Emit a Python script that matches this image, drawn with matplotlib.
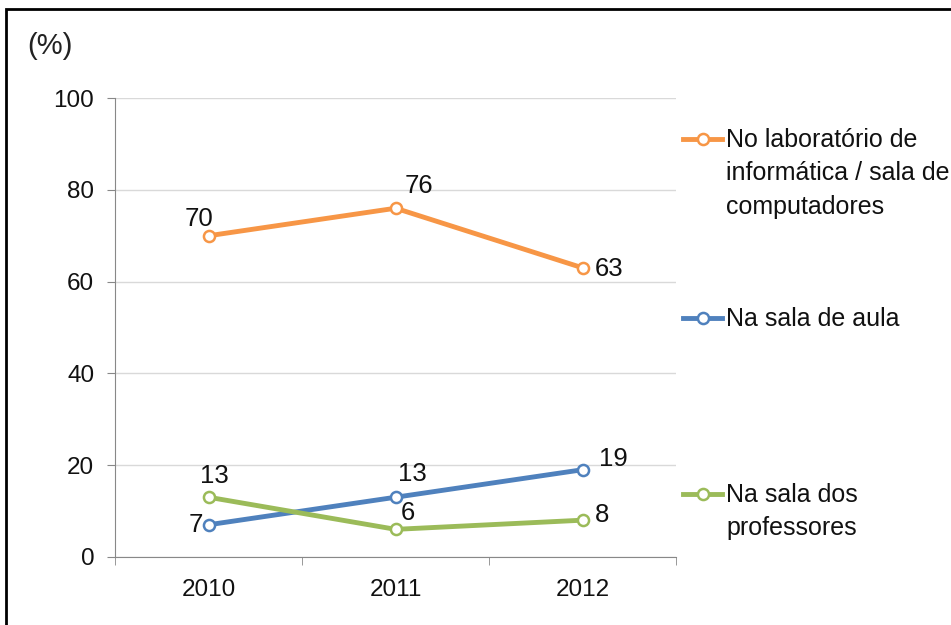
import matplotlib.pyplot as plt
from matplotlib.lines import Line2D
from matplotlib.patches import Rectangle

plt.rcParams['font.family'] = ['Liberation Sans', 'DejaVu Sans']

years = ['2010', '2011', '2012']
lab_values = [70, 76, 63]
aula_values = [7, 13, 19]
prof_values = [13, 6, 8]

series_names = [['No laboratório de', 'informática / sala de', 'computadores'],
                ['Na sala de aula'],
                ['Na sala dos', 'professores']]
colors = ['#F79646', '#4F81BD', '#9BBB59']

# offsets of the value labels in points (dx, dy, ha)
lab_offsets = [(-7, 12, 'center'), (17, 16, 'center'), (9, -1, 'left')]
aula_offsets = [(-4, 0, 'right'), (12, 17, 'center'), (12, 8, 'left')]
prof_offsets = [(4, 15, 'center'), (9, 12, 'center'), (9, 4, 'left')]

FS = 17.5
TXT = '#111111'

fig = plt.figure(figsize=(9.51, 6.25), dpi=100)
ax = fig.add_axes([0.121, 0.109, 0.590, 0.734])

x = list(range(len(years)))
for values, color, offsets in zip([lab_values, aula_values, prof_values],
                                  colors,
                                  [lab_offsets, aula_offsets, prof_offsets]):
    ax.plot(x, values, color=color, lw=3.5, marker='o', ms=8,
            mfc='white', mec=color, mew=1.8, zorder=3)
    for xi, v, (dx, dy, ha) in zip(x, values, offsets):
        ax.annotate(str(v), (xi, v), xytext=(dx, dy), textcoords='offset points',
                    ha=ha, va='center', fontsize=18.5, color=TXT)

ax.set_xlim(-0.5, 2.5)
ax.set_ylim(0, 100)
ax.set_yticks([0, 20, 40, 60, 80, 100])
ax.set_xticks(x)
ax.set_xticklabels(years)
ax.set_xticks([-0.5, 0.5, 1.5, 2.5], minor=True)
ax.tick_params(axis='x', which='major', length=0, pad=16, labelsize=FS,
               labelcolor=TXT)
ax.tick_params(axis='x', which='minor', length=6, color='#888888')
ax.tick_params(axis='y', length=6, color='#888888', pad=9, labelsize=FS,
               labelcolor=TXT)
ax.grid(axis='y', color='#d9d9d9', lw=1)
ax.set_axisbelow(True)
for side in ['top', 'right']:
    ax.spines[side].set_visible(False)
ax.spines['left'].set_color('#888888')
ax.spines['bottom'].set_color('#888888')

# legend drawn beside the plot area, handle level with the first text line
legend_y = [139, 318, 494]  # pixel rows of the handles
line_pitch = 33.5
for lines, color, py in zip(series_names, colors, legend_y):
    yf = 1 - py / 625
    fig.add_artist(Line2D([683 / 951, 722 / 951], [yf, yf], color=color, lw=3.5,
                          transform=fig.transFigure))
    fig.add_artist(Line2D([703 / 951], [yf], color=color, marker='o', ms=8,
                          mfc='white', mec=color, mew=1.8,
                          transform=fig.transFigure))
    for i, text in enumerate(lines):
        fig.text(726 / 951, 1 - (py + 8 + i * line_pitch) / 625, text,
                 fontsize=18, color=TXT, va='baseline', ha='left')

fig.text(0.029, 1 - 54 / 625, '(%)', fontsize=21, color='#222222', va='baseline')

fig.patches.append(Rectangle((0.006, -0.1), 1.1, 1.085, transform=fig.transFigure,
                             fill=False, lw=2, ec='black'))

fig.savefig('out.png', dpi=100)
